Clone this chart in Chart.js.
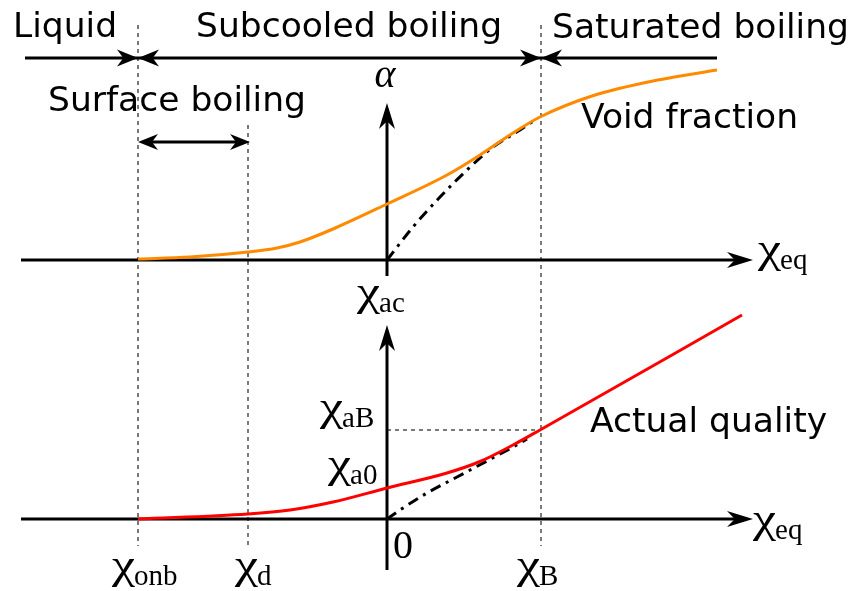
<!DOCTYPE html>
<html>
<head>
<meta charset="utf-8">
<script src="https://cdn.jsdelivr.net/npm/chart.js@4.4.0/dist/chart.umd.min.js"></script>
<style>
  body { margin: 0; background: #fff; }
  canvas { display: block; }
</style>
</head>
<body>
<canvas id="boilingChart" width="850" height="591"></canvas>
<script>
// equilibrium quality in diagram units (0 at the vertical axes)
const voidX = [-249, -197, -139, -110, -87, -54, 0, 60, 93, 126, 153, 205, 271, 330];
const voidAlpha = [1, 3, 8, 12, 18, 31, 56, 85, 105, 127, 143, 164, 180, 190];

// homogeneous (no subcooled boiling) void fraction, dash-dot
const voidEqX = [0, 26, 53, 80, 106, 133, 148];
const voidEqAlpha = [0, 33, 63, 90, 113, 130, 140];

// actual quality
const qualX = [-249, -139, -97, -54, 0, 60, 93, 126, 153, 355];
const qualVal = [0, 5, 9, 17, 31, 46, 57.5, 74, 89, 204];

// equilibrium quality, dash-dot
const qualEqX = [0, 13, 40, 70, 100, 126, 140];
const qualEqVal = [0, 9, 26, 42, 58, 72, 80];

// marked points on the chi_eq axis
const markX = [-249, -139, 154];
const markSub = ['onb', 'd', 'B'];
const qualityAtB = 89;

const regionNames = ['Liquid', 'Subcooled boiling', 'Saturated boiling', 'Surface boiling'];

function pts(xs, ys) {
    return xs.map(function (x, i) { return { x: x, y: ys[i] }; });
}

function arrowHead(ctx, x, y, angle, len, half) {
    ctx.save();
    ctx.translate(x, y);
    ctx.rotate(angle);
    ctx.beginPath();
    ctx.moveTo(0, 0);
    ctx.lineTo(-len, -half);
    ctx.lineTo(-len * 0.7, 0);
    ctx.lineTo(-len, half);
    ctx.closePath();
    ctx.fill();
    ctx.restore();
}

function line(ctx, x1, y1, x2, y2) {
    ctx.beginPath();
    ctx.moveTo(x1, y1);
    ctx.lineTo(x2, y2);
    ctx.stroke();
}

// chi with a roman subscript, chi stretched a little to look like the TeX glyph
function mathLabel(ctx, x, base, main, sub) {
    ctx.font = '40px "Liberation Serif"';
    const w = ctx.measureText(main).width * 1.3;
    ctx.save();
    ctx.translate(x, base);
    ctx.scale(1.3, 1);
    ctx.fillText(main, 0, 0);
    ctx.restore();
    ctx.font = '29px "Liberation Serif"';
    ctx.fillText(sub, x + w - 1, base + 7);
}

const diagramPlugin = {
    id: 'diagram',
    beforeDatasetsDraw: function (chart) {
        const ctx = chart.ctx;
        const sx = chart.scales.x, yT = chart.scales.yTop, yB = chart.scales.yBot;
        const x0 = sx.getPixelForValue(0);
        const top0 = yT.getPixelForValue(0);
        const bot0 = yB.getPixelForValue(0);
        ctx.save();

        // dashed guides
        ctx.strokeStyle = '#222';
        ctx.lineWidth = 1.2;
        ctx.setLineDash([4, 4]);
        const guideTop = [25, 125, 25];
        markX.forEach(function (m, i) {
            const px = sx.getPixelForValue(m);
            line(ctx, px, guideTop[i], px, bot0 + 27);
        });
        line(ctx, x0, yB.getPixelForValue(qualityAtB), sx.getPixelForValue(markX[2]), yB.getPixelForValue(qualityAtB));
        ctx.setLineDash([]);

        // axes
        ctx.strokeStyle = '#000';
        ctx.fillStyle = '#000';
        ctx.lineWidth = 3;
        [top0, bot0].forEach(function (py) {
            line(ctx, 21, py, 735, py);
            arrowHead(ctx, 753, py, 0, 26, 8);
        });
        line(ctx, x0, 276, x0, 120);
        arrowHead(ctx, x0, 103, -Math.PI / 2, 26, 8);
        line(ctx, x0, 570, x0, 342);
        arrowHead(ctx, x0, 325, -Math.PI / 2, 26, 8);

        // region bar
        const pOnb = sx.getPixelForValue(markX[0]);
        const pD = sx.getPixelForValue(markX[1]);
        const pB = sx.getPixelForValue(markX[2]);
        line(ctx, 25, 58, 717, 58);
        [pOnb, pB].forEach(function (px) {
            arrowHead(ctx, px, 58, 0, 21, 8.5);
            arrowHead(ctx, px, 58, Math.PI, 21, 8.5);
        });
        line(ctx, pOnb + 10, 142, pD - 10, 142);
        arrowHead(ctx, pOnb, 142, Math.PI, 20, 8);
        arrowHead(ctx, pD + 2, 142, 0, 20, 8);
        ctx.restore();
    },
    afterDatasetsDraw: function (chart) {
        const ctx = chart.ctx;
        ctx.save();
        ctx.fillStyle = '#000';
        ctx.textBaseline = 'alphabetic';
        ctx.font = '34.5px "DejaVu Sans"';
        ctx.fillText(regionNames[0], 13, 37);
        ctx.fillText(regionNames[1], 196, 37);
        ctx.fillText(regionNames[2], 552, 38);
        ctx.fillText(regionNames[3], 48, 111);
        ctx.fillText('Void fraction', 581, 128);
        ctx.fillText('Actual quality', 590, 432);

        ctx.font = 'italic 40px "Liberation Serif"';
        ctx.textAlign = 'center';
        ctx.fillText('\u03b1', 385, 87);
        ctx.textAlign = 'left';

        mathLabel(ctx, 758, 262, '\u03c7', 'eq');
        mathLabel(ctx, 357, 305, '\u03c7', 'ac');
        mathLabel(ctx, 320, 420, '\u03c7', 'aB');
        mathLabel(ctx, 328, 477, '\u03c7', 'a0');
        mathLabel(ctx, 753, 532, '\u03c7', 'eq');
        const markLeft = [112, 235, 517];
        markSub.forEach(function (s, i) {
            mathLabel(ctx, markLeft[i], 578, '\u03c7', s);
        });
        ctx.font = '40px "Liberation Serif"';
        ctx.fillText('0', 393, 558);
        ctx.restore();
    }
};

new Chart(document.getElementById('boilingChart'), {
    type: 'scatter',
    data: {
        datasets: [{
            label: 'Void fraction',
            data: pts(voidX, voidAlpha),
            yAxisID: 'yTop',
            showLine: true,
            borderColor: '#ff8a00',
            borderWidth: 3,
            pointRadius: 0,
            cubicInterpolationMode: 'monotone'
        }, {
            label: 'Void fraction (eq)',
            data: pts(voidEqX, voidEqAlpha),
            yAxisID: 'yTop',
            showLine: true,
            borderColor: '#000',
            borderWidth: 3,
            borderDash: [11, 6, 3, 6],
            pointRadius: 0,
            cubicInterpolationMode: 'monotone'
        }, {
            label: 'Actual quality',
            data: pts(qualX, qualVal),
            yAxisID: 'yBot',
            showLine: true,
            borderColor: '#ff0000',
            borderWidth: 3,
            pointRadius: 0,
            cubicInterpolationMode: 'monotone'
        }, {
            label: 'Equilibrium quality',
            data: pts(qualEqX, qualEqVal),
            yAxisID: 'yBot',
            showLine: true,
            borderColor: '#000',
            borderWidth: 3,
            borderDash: [11, 6, 3, 6],
            pointRadius: 0,
            cubicInterpolationMode: 'monotone'
        }]
    },
    options: {
        responsive: false,
        animation: false,
        layout: { padding: 0 },
        scales: {
            x: { type: 'linear', min: -387, max: 463, display: false },
            yTop: { type: 'linear', min: -331, max: 260, display: false },
            yBot: { type: 'linear', min: -72, max: 519, display: false }
        },
        plugins: {
            legend: { display: false },
            tooltip: { enabled: false }
        }
    },
    plugins: [diagramPlugin]
});
</script>
</body>
</html>
